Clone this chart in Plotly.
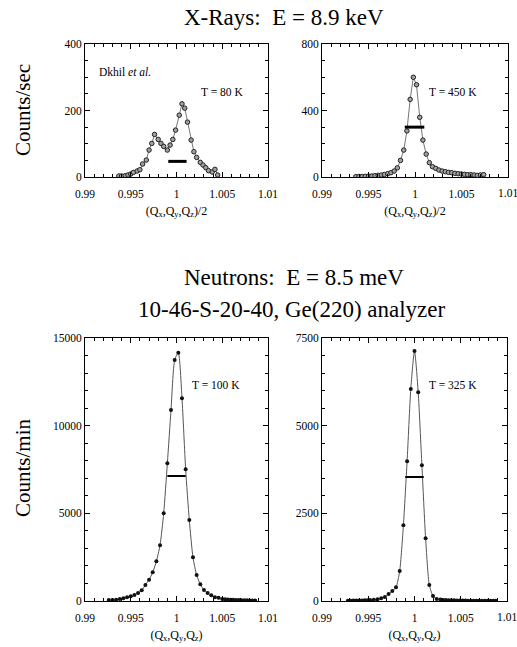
import plotly.graph_objects as go

# ---------------- data ----------------
# X-rays, T = 80 K (Dkhil et al.)
xr80_x = [0.9937, 0.9940, 0.9944, 0.9947, 0.9950, 0.9953, 0.9957, 0.9960, 0.9963, 0.9967,
          0.9970, 0.9973, 0.9976, 0.9980, 0.9983, 0.9986, 0.9990, 0.9993, 0.9996, 0.9999,
          1.0003, 1.0006, 1.0009, 1.0012, 1.0016, 1.0019, 1.0022, 1.0026, 1.0029, 1.0032,
          1.0035, 1.0039, 1.0042, 1.0045]
xr80_y = [3, 3, 4, 6, 9, 14, 18, 22, 39, 51, 81, 101, 128, 113, 101, 92, 81, 96, 113, 141,
          186, 220, 207, 165, 111, 76, 59, 44, 36, 28, 19, 15, 23, 6]
xr80_bar_x = [0.9991, 1.0011]
xr80_bar_y = [47, 47]

# X-rays, T = 450 K
xr450_x = [0.99363, 0.99397, 0.99432, 0.99466, 0.99500, 0.99535, 0.99569, 0.99604, 0.99638,
           0.99672, 0.99707, 0.99741, 0.99776, 0.99810, 0.99844, 0.99879, 0.99913, 0.99948,
           0.99982, 1.00016, 1.00051, 1.00085, 1.00120, 1.00154, 1.00188, 1.00223, 1.00257,
           1.00292, 1.00326, 1.00360, 1.00395, 1.00429, 1.00464, 1.00498, 1.00532, 1.00567,
           1.00601, 1.00636, 1.00670, 1.00704, 1.00739]
xr450_y = [2, 3, 3, 4, 5, 6, 8, 10, 12, 15, 20, 26, 36, 55, 100, 162, 277, 467,
           600, 555, 359, 222, 138, 86, 62, 52, 42, 36, 32, 28, 26, 22, 20, 18, 16, 14,
           14, 12, 10, 12, 14]
xr450_bar_x = [0.9989, 1.0010]
xr450_bar_y = [300, 300]

# Neutrons, T = 100 K
n100_x = [0.9926, 0.9930, 0.9934, 0.9938, 0.9942, 0.9946, 0.9950, 0.9954, 0.9958, 0.9962,
          0.9966, 0.9970, 0.9974, 0.9978, 0.9982, 0.9986, 0.9990, 0.9994, 0.9998, 1.0002,
          1.0006, 1.0010, 1.0014, 1.0018, 1.0022, 1.0026, 1.0030, 1.0034, 1.0038, 1.0042,
          1.0046, 1.0050, 1.0053, 1.0056, 1.0059, 1.0062, 1.0065, 1.0068, 1.0071, 1.0074,
          1.0077, 1.0080, 1.0083, 1.0086]
n100_y = [57, 60, 76, 114, 152, 209, 266, 342, 456, 610, 912, 1217, 1635, 2263, 3175, 5000,
          7851, 10893, 13745, 14163, 11560, 7510, 4620, 2490, 1483, 950, 627, 456, 323, 209,
          190, 114, 100, 90, 76, 65, 60, 50, 45, 40, 38, 35, 32, 30]
n100_bar_x = [0.9990, 1.0010]
n100_bar_y = [7130, 7130]

# Neutrons, T = 325 K
n325_x = [0.9928, 0.9931, 0.9934, 0.9937, 0.9940, 0.9943, 0.9946, 0.9949, 0.9952, 0.9956,
          0.9960, 0.9964, 0.9968, 0.9972, 0.9976, 0.9980, 0.9984, 0.9988, 0.9992, 0.9996,
          1.0000, 1.0004, 1.0008, 1.0012, 1.0016, 1.0020, 1.0024, 1.0028, 1.0031, 1.0034,
          1.0037, 1.0040, 1.0043, 1.0046, 1.0049, 1.0052, 1.0055, 1.0058, 1.0061, 1.0064,
          1.0067, 1.0070, 1.0073, 1.0076, 1.0079, 1.0082, 1.0085, 1.0088]
n325_y = [10, 10, 12, 12, 15, 15, 18, 22, 28, 37, 48, 76, 114, 200, 285, 390, 855, 2158,
          3983, 6046, 7129, 5951, 3869, 1788, 456, 143, 57, 40, 30, 25, 20, 20, 18, 15, 15,
          12, 12, 10, 10, 10, 10, 10, 10, 10, 10, 10, 10, 10]
n325_bar_x = [0.9990, 1.0010]
n325_bar_y = [3536, 3536]

x_tickvals = [0.99, 0.995, 1.0, 1.005, 1.01]
x_ticktext = ["0.99", "0.995", "1", "1.005", "1.01"]

# ---------------- figure ----------------
W, H = 517, 647
FONT = "'Liberation Serif', 'Times New Roman', serif"

def px_x(p):
    return p / W

def px_y(p):
    return 1 - p / H

fig = go.Figure()

def add_panel(xs, ys, bx, by, ax, open_markers, spline):
    xa = "x" + ("" if ax == 1 else str(ax))
    ya = "y" + ("" if ax == 1 else str(ax))
    if open_markers:
        marker = dict(symbol="circle", size=4.5, color="#a0a0a0",
                      line=dict(color="#222222", width=1))
    else:
        marker = dict(symbol="circle", size=4, color="#111111",
                      line=dict(width=0))
    fig.add_trace(go.Scatter(
        x=xs, y=ys, mode="lines+markers", xaxis=xa, yaxis=ya,
        line=dict(color="#777777" if open_markers else "#555555", width=1,
                  shape="spline" if spline else "linear", smoothing=0.6),
        marker=marker, showlegend=False, hoverinfo="x+y"))
    fig.add_trace(go.Scatter(
        x=bx, y=by, mode="lines", xaxis=xa, yaxis=ya,
        line=dict(color="black", width=3 if open_markers else 2),
        showlegend=False, hoverinfo="skip"))

add_panel(xr80_x, xr80_y, xr80_bar_x, xr80_bar_y, 1, True, False)
add_panel(xr450_x, xr450_y, xr450_bar_x, xr450_bar_y, 2, True, False)
add_panel(n100_x, n100_y, n100_bar_x, n100_bar_y, 3, False, True)
add_panel(n325_x, n325_y, n325_bar_x, n325_bar_y, 4, False, True)

TICK_SIZE = 11.5
tickfont = dict(family=FONT, size=TICK_SIZE, color="black")

def xaxis(dom, anchor, title, last_label=True):
    texts = list(x_ticktext) if last_label else x_ticktext[:-1] + [""]
    return dict(domain=dom, anchor=anchor, range=[0.99, 1.01], automargin=False,
                ticklabeloverflow="allow", ticklabelstandoff=6,
                tickmode="array", tickvals=x_tickvals, ticktext=texts,
                ticks="inside", ticklen=5, tickcolor="black", tickwidth=1,
                minor=dict(tickmode="linear", tick0=0.99, dtick=0.001, ticks="inside",
                           ticklen=3, tickcolor="black", showgrid=False),
                showline=True, linecolor="black", linewidth=1, mirror="ticks",
                showgrid=False, zeroline=False, tickfont=tickfont,
                title=dict(text=title, font=dict(family=FONT, size=12, color="black"),
                           standoff=7))

def yaxis(dom, anchor, rng, tv, minor_dt):
    return dict(domain=dom, anchor=anchor, range=rng, automargin=False,
                ticklabeloverflow="allow",
                tickmode="array", tickvals=tv, ticktext=[str(v) for v in tv],
                ticks="inside", ticklen=5, tickcolor="black", tickwidth=1,
                minor=dict(tickmode="linear", tick0=0, dtick=minor_dt, ticks="inside",
                           ticklen=3, tickcolor="black", showgrid=False),
                showline=True, linecolor="black", linewidth=1, mirror="ticks",
                showgrid=False, zeroline=False, tickfont=tickfont)

top_dom = [px_y(177), px_y(44)]
bot_dom = [px_y(601), px_y(338)]
left_dom = [px_x(85), px_x(268)]
right_dom = [px_x(322), px_x(508)]

xt_top = "(Q<sub>x</sub>,Q<sub>y</sub>,Q<sub>z</sub>)/2"
xt_bot = "(Q<sub>x</sub>,Q<sub>y</sub>,Q<sub>z</sub>)"

fig.update_layout(
    width=W, height=H, autosize=False,
    margin=dict(l=0, r=0, t=0, b=0, pad=0),
    paper_bgcolor="white", plot_bgcolor="white",
    font=dict(family=FONT, color="black"),
    xaxis=xaxis(left_dom, "y", xt_top),
    yaxis=yaxis(top_dom, "x", [0, 400], [0, 200, 400], 50),
    xaxis2=xaxis(right_dom, "y2", xt_top, last_label=False),
    yaxis2=yaxis(top_dom, "x2", [0, 800], [0, 400, 800], 100),
    xaxis3=xaxis(left_dom, "y3", xt_bot),
    yaxis3=yaxis(bot_dom, "x3", [0, 15000], [0, 5000, 10000, 15000], 1000),
    xaxis4=xaxis([px_x(322), px_x(507)], "y4", xt_bot, last_label=False),
    yaxis4=yaxis(bot_dom, "x4", [0, 7500], [0, 2500, 5000, 7500], 500),
)

def ann(text, x, y, size, xanchor="center", yanchor="middle", angle=0, xref="paper"):
    fig.add_annotation(text=text, x=x, y=y, xref=xref, yref="paper",
                       xanchor=xanchor, yanchor=yanchor, showarrow=False,
                       textangle=angle,
                       font=dict(family=FONT, size=size, color="black"))

# last x tick label of the right-hand panels (sits on the page edge)
ann(x_ticktext[-1], x_tickvals[-1], px_y(193), TICK_SIZE, xref="x2")
ann(x_ticktext[-1], x_tickvals[-1], px_y(617), TICK_SIZE, xref="x4")

ann("X-Rays:&nbsp;&nbsp;E = 8.9 keV", px_x(284), px_y(17), 23)
ann("Neutrons:&nbsp;&nbsp;E = 8.5 meV", px_x(294), px_y(277), 23)
ann("10-46-S-20-40, Ge(220) analyzer", px_x(292), px_y(309), 23)
ann("Counts/sec", px_x(23), px_y(110), 21, angle=-90)
ann("Counts/min", px_x(23), px_y(468), 21, angle=-90)
ann("Dkhil <i>et al.</i>", px_x(97), px_y(72), 11.5, xanchor="left")
ann("T = 80 K", px_x(199), px_y(92), 11.5, xanchor="left")
ann("T = 450 K", px_x(427), px_y(92), 11.5, xanchor="left")
ann("T = 100 K", px_x(190), px_y(385), 11.5, xanchor="left")
ann("T = 325 K", px_x(427), px_y(385), 11.5, xanchor="left")

fig.write_html("out.html",
               config={"displayModeBar": False},
               post_script="document.body.style.margin='0';document.body.style.overflow='hidden';")
